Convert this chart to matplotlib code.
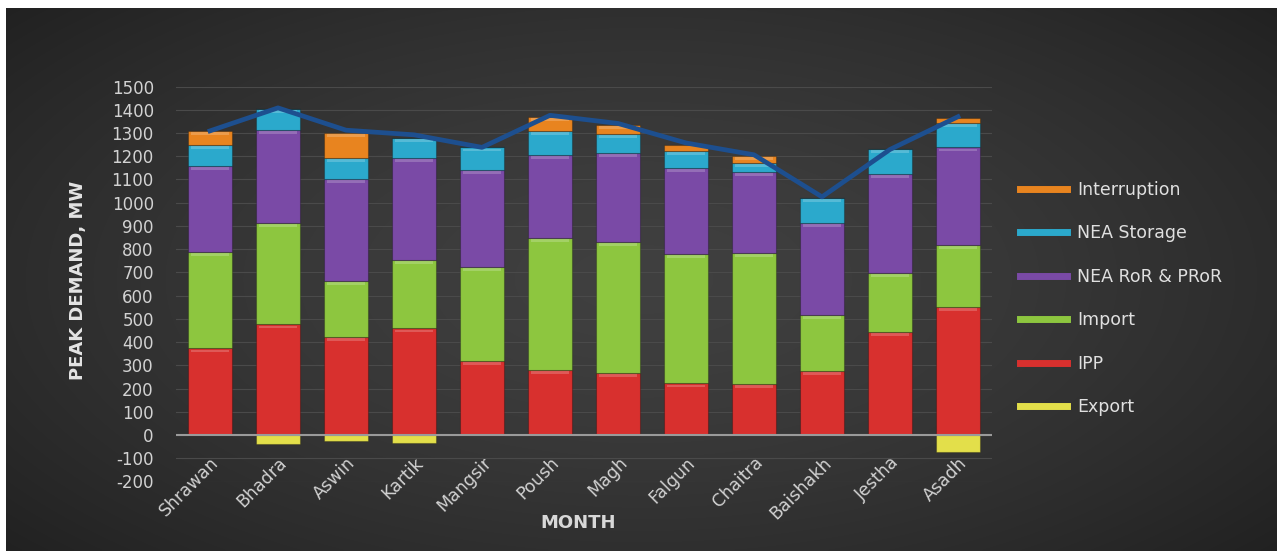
import numpy as np
import matplotlib
matplotlib.use("Agg")
import matplotlib.pyplot as plt
from matplotlib.lines import Line2D
import matplotlib.transforms as mtransforms

plt.rcParams['font.family'] = ['DejaVu Sans']
plt.rcParams['axes.unicode_minus'] = False

# Monthly peak-demand composition (MW)
months = ["Shrawan", "Bhadra", "Aswin", "Kartik", "Mangsir", "Poush",
          "Magh", "Falgun", "Chaitra", "Baishakh", "Jestha", "Asadh"]
ipp = [373, 476, 423, 459, 318, 280, 268, 222, 220, 277, 445, 552]
imports = [416, 438, 241, 294, 407, 567, 564, 557, 565, 240, 251, 266]
nea_ror = [369, 399, 437, 438, 416, 358, 381, 369, 348, 397, 428, 420]
nea_storage = [89, 89, 90, 86, 97, 105, 83, 76, 37, 105, 106, 106]
interruption = [63, 0, 110, 0, 0, 60, 38, 24, 31, 0, 0, 22]
export = [0, -39, -25, -33, 0, 0, 0, 0, 0, 0, 0, -72]
peak_demand = [1309, 1408, 1312, 1292, 1238, 1376, 1341, 1257, 1206, 1025, 1229, 1370]

series = [
    ("IPP", ipp, "#d8302e"),
    ("Import", imports, "#8dc63f"),
    ("NEA RoR & PRoR", nea_ror, "#7a4aa6"),
    ("NEA Storage", nea_storage, "#2ba9cc"),
    ("Interruption", interruption, "#e8841f"),
]
export_color = "#e3df4a"
line_color = "#1d4f8f"
text_color = "#d2d2d2"

W, H = 1277, 551
fig = plt.figure(figsize=(W / 100, H / 100), dpi=100, facecolor="white")

# dark vignette background panel
bg = fig.add_axes([6 / W, 0, 1 - 6 / W, 1 - 8 / H])
gx = np.linspace(-1, 1, 400)
gy = np.linspace(-1, 1, 200)
X, Y = np.meshgrid(gx, gy)
R = np.sqrt((X * 0.9) ** 2 + (Y * 0.8) ** 2)
shade = 0.25 - 0.09 * np.clip(R, 0, 1.3) ** 1.5
bg.imshow(np.dstack([shade, shade, shade]), aspect="auto",
          extent=[0, 1, 0, 1], interpolation="bilinear")
bg.set_axis_off()

ax = fig.add_axes([176 / W, (H - 481.5) / H, 816 / W, 395 / H])
ax.set_facecolor("none")
x = np.arange(len(months))
width = 0.65

bottom = np.zeros(len(months))
for name, vals, col in series:
    vals = np.asarray(vals, dtype=float)
    ax.bar(x, vals, width, bottom=bottom, color=col, edgecolor=(0, 0, 0, 0.25),
           linewidth=0.8, zorder=3)
    # glossy highlight near the top of each segment
    tops = bottom + vals
    hl = np.where(vals > 30, 12.0, 0.0)
    ax.bar(x, hl, width * 0.85, bottom=tops - hl - 5, color="white", alpha=0.2,
           linewidth=0, zorder=4)
    bottom = tops

exp = np.asarray(export, dtype=float)
ax.bar(x, exp, width, color=export_color, edgecolor=(0, 0, 0, 0.25),
       linewidth=0.8, zorder=3)

ax.plot(x, peak_demand, color=line_color, lw=3.4, zorder=6, solid_joinstyle="round")

ax.set_xlim(-0.5, len(months) - 0.5)
ax.set_ylim(-200, 1500)
ax.set_yticks(np.arange(-200, 1501, 100))
ax.yaxis.grid(True, color="#4a4a4a", lw=0.8, zorder=0)
ax.axhline(0, color="#9a9a9a", lw=1.5, zorder=5)
for s in ax.spines.values():
    s.set_visible(False)
ax.tick_params(axis="both", length=0, colors=text_color, labelsize=12)
ax.tick_params(axis="y", pad=16)
ax.set_xticks(x)
ax.set_xticklabels(months, rotation=45, ha="right", rotation_mode="anchor")
shift = mtransforms.ScaledTranslation(3 / 100, 0, fig.dpi_scale_trans)
for lbl in ax.get_xticklabels():
    lbl.set_color(text_color)
    lbl.set_fontsize(12.5)
    lbl.set_transform(lbl.get_transform() + shift)
ax.tick_params(axis="x", pad=-20)

fig.text(78 / W, 1 - 280 / H, "PEAK DEMAND, MW", rotation=90, ha="center",
         va="center", fontsize=13, fontweight="bold", color="#e4e4e4")
fig.text(578 / W, 1 - 523 / H, "MONTH", ha="center", va="center",
         fontsize=13, fontweight="bold", color="#d8d8d8")

handles = [Line2D([], [], color=c, lw=5) for _, _, c in series[::-1]]
handles.append(Line2D([], [], color=export_color, lw=5))
labels = [n for n, _, _ in series[::-1]] + ["Export"]
leg = fig.legend(handles, labels, loc="upper left",
                 bbox_to_anchor=(1004 / W, 1 - 165 / H), frameon=False,
                 fontsize=12.5, handlelength=2.75, labelspacing=1.47,
                 handletextpad=0.55, labelcolor="#e0e0e0")

fig.savefig("out.png", dpi=100, facecolor="white")
